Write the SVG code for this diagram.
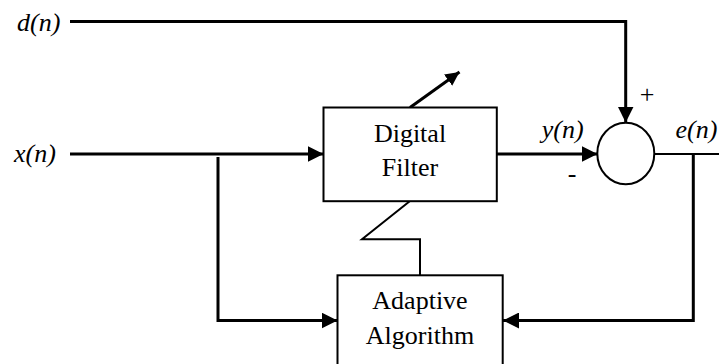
<svg xmlns="http://www.w3.org/2000/svg" width="719" height="364" viewBox="0 0 719 364">
<style>
  .box { fill: #fff; stroke: #000; stroke-width: 2; }
  .wire { fill: none; stroke: #000; stroke-width: 3; }
  .thin { fill: none; stroke: #000; stroke-width: 2; }
  .lbl { font-family: "Liberation Serif", "Times New Roman", serif; font-size: 26px; fill: #000; }
  .sig { font-family: "Liberation Serif", "Times New Roman", serif; font-size: 26px; font-style: italic; fill: #000; }
</style>
<defs>
  <marker id="ah" markerUnits="userSpaceOnUse" markerWidth="16" markerHeight="16" refX="16" refY="8" orient="auto">
    <path d="M0,0 L16,8 L0,16 z" fill="#000"/>
  </marker>
  <marker id="ahs" markerUnits="userSpaceOnUse" markerWidth="14" markerHeight="14" refX="14" refY="7" orient="auto">
    <path d="M0,0 L14,7 L0,14 z" fill="#000"/>
  </marker>
</defs>

<g id="connectors">
  <path class="wire" d="M70,21.5 H625.7 V122.5" marker-end="url(#ah)"/>
  <path class="wire" d="M70,154 H323.5" marker-end="url(#ah)"/>
  <path class="wire" d="M218,157 V320.5 H337.5" marker-end="url(#ah)"/>
  <path class="wire" d="M497,154 H597.5" marker-end="url(#ah)"/>
  <path class="thin" d="M654,154 H719"/>
  <path class="wire" d="M693.3,154 V320.5 H503" marker-end="url(#ah)"/>
  <path class="thin" d="M410,201 L362,239.3 H420 V275.3"/>
  <path class="wire" d="M410,107.5 L459.5,72" marker-end="url(#ahs)"/>
</g>

<g id="digital-filter">
  <rect class="box" x="323.5" y="107.5" width="173.3" height="93.7"/>
  <text class="lbl" x="410" y="141.5" text-anchor="middle">Digital</text>
  <text class="lbl" x="410" y="175.5" text-anchor="middle">Filter</text>
</g>

<g id="adaptive-algorithm">
  <rect class="box" x="337.5" y="275.3" width="165.2" height="95"/>
  <text class="lbl" x="420" y="309.3" text-anchor="middle">Adaptive</text>
  <text class="lbl" x="420" y="344" text-anchor="middle">Algorithm</text>
</g>

<g id="summer">
  <ellipse class="thin" cx="625.8" cy="153.5" rx="28.5" ry="30.8" fill="#fff"/>
  <text class="lbl" x="647" y="102.5" text-anchor="middle">+</text>
  <text class="lbl" x="572" y="181.5" text-anchor="middle">-</text>
</g>

<g id="labels">
  <text class="sig" x="17" y="30.5">d(n)</text>
  <text class="sig" x="14" y="161.5">x(n)</text>
  <text class="sig" x="541.7" y="137.5">y(n)</text>
  <text class="sig" x="675.5" y="138.3">e(n)</text>
</g>
</svg>
